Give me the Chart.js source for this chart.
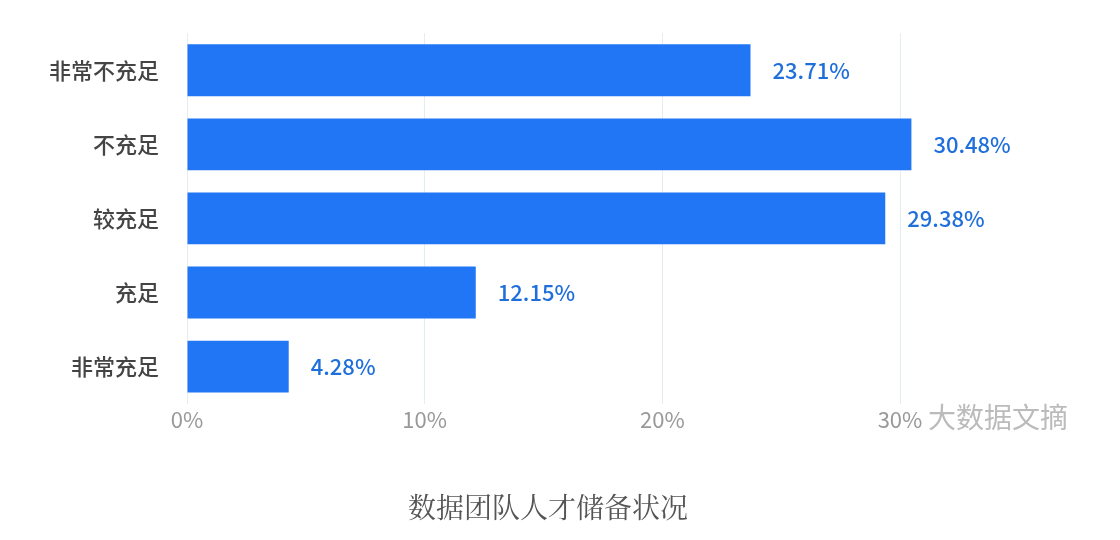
<!DOCTYPE html>
<html>
<head>
<meta charset="utf-8">
<script src="https://cdn.jsdelivr.net/npm/chart.js@4"></script>
<style>
body{margin:0;background:#fff;}
#wrap{position:relative;width:1120px;height:540px;}
#mark{position:absolute;left:928px;top:396px;font:28px "Noto Sans CJK SC";color:#bbb;}
#title{position:absolute;left:0;width:1096px;top:486px;text-align:center;font:28px "Noto Serif CJK SC",serif;color:#555;}
</style>
</head>
<body>
<div id="wrap">
<canvas id="chart" width="1120" height="540"></canvas>
<div id="mark">大数据文摘</div>
<div id="title">数据团队人才储备状况</div>
</div>
<script>
const labels = ['非常不充足', '不充足', '较充足', '充足', '非常充足'];
const values = [23.71, 30.48, 29.38, 12.15, 4.28];
const ticks = ['0%', '10%', '20%', '30%'];

// labels after bar end
const valueLabels = {
    id: 'valueLabels',
    afterDatasetsDraw(chart){
        const ctx = chart.ctx;
        const meta = chart.getDatasetMeta(0);
        ctx.save();
        ctx.font = '500 22px "Noto Sans CJK SC"';
        ctx.fillStyle = '#1f6fdb';
        ctx.textBaseline = 'middle';
        meta.data.forEach((bar, i) => {
            ctx.fillText(values[i].toFixed(2) + '%', bar.x + 22, bar.y);
        });
        ctx.restore();
    }
};

new Chart(document.getElementById('chart').getContext('2d'), {
    type: 'bar',
    data: {
        labels: labels,
        datasets: [{
            data: values,
            backgroundColor: '#2176f5',
            categoryPercentage: 0.7,
            barPercentage: 1,
            clip: false
        }]
    },
    options: {
        indexAxis: 'y',
        responsive: false,
        animation: false,
        layout: {padding: {top: 17, right: 220, left: 29, bottom: 104}},
        plugins: {
            legend: {display: false},
            tooltip: {enabled: false}
        },
        scales: {
            x: {
                min: 0, max: 30,
                ticks: {
                    stepSize: 10,
                    color: '#999',
                    font: {family: '"Noto Sans CJK SC"', size: 22},
                    callback: (v, i) => ticks[i]
                },
                grid: {color: '#e4eef0', drawTicks: false},
                border: {display: false}
            },
            y: {
                ticks: {color: '#444', font: {family: '"Noto Sans CJK SC"', size: 22, weight: 500}, padding: 20},
                grid: {display: false},
                border: {display: false}
            }
        }
    },
    plugins: [valueLabels]
});
</script>
</body>
</html>
